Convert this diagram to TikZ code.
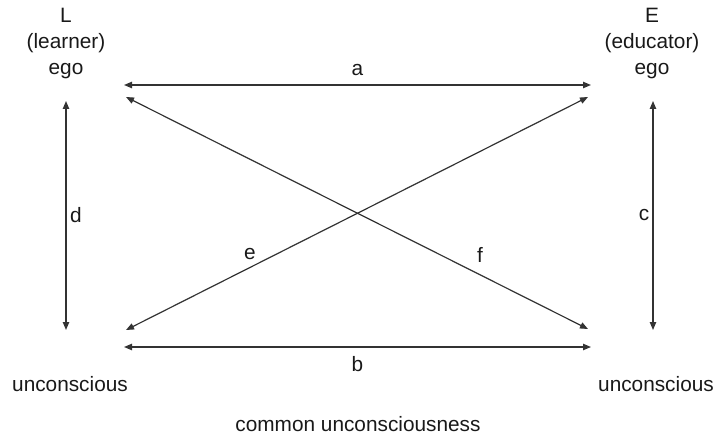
\documentclass[tikz,border=0pt]{standalone}
\usepackage{fontspec}
\setmainfont{Liberation Sans}
\usetikzlibrary{arrows.meta}
\tikzset{lbl/.style={font=\fontsize{10.4}{13}\selectfont,align=center,text=black!90},
  link/.style={{Triangle[length=4pt,width=3.2pt]}-{Triangle[length=4pt,width=3.2pt]},line width=.6pt,black!80}}
\begin{document}
\begin{tikzpicture}[x=.5pt,y=-.5pt]
\useasboundingbox (0,0) rectangle (718,433);
\node[lbl] (L) at (66,44) {L\\(learner)\\ego};\node[lbl] (E) at (652,44) {E\\(educator)\\ego};
\node[lbl] (Lu) at (70,384) {unconscious};\node[lbl] (Eu) at (656,384) {unconscious};
\node[lbl] (common) at (358,424) {common unconsciousness};
\coordinate (Ltop) at (66,101);\coordinate (Lbot) at (66,330);\coordinate (Etop) at (653,101);\coordinate (Ebot) at (653,330);
\coordinate (La) at (124,85);\coordinate (Ea) at (591,85);\coordinate (Lb) at (124,347);\coordinate (Eb) at (591,347);
\coordinate (Lf) at (126,97);\coordinate (Ef) at (588,329);\coordinate (Le) at (126,330);\coordinate (Ee) at (588,97);
\draw[link] (La)--(Ea) node[lbl,midway,above=1pt] {a};\draw[link] (Lb)--(Eb) node[lbl,midway,below=1pt] {b};
\draw[link] (Ltop)--(Lbot) node[lbl,midway,xshift=5pt] {d};\draw[link] (Etop)--(Ebot) node[lbl,midway,xshift=-4.5pt] {c};
\draw[link] (Le)--(Ee) node[lbl,pos=.268,yshift=6.8pt] {e};\draw[link] (Lf)--(Ef) node[lbl,pos=.766,yshift=10pt] {f};
\end{tikzpicture}
\end{document}
